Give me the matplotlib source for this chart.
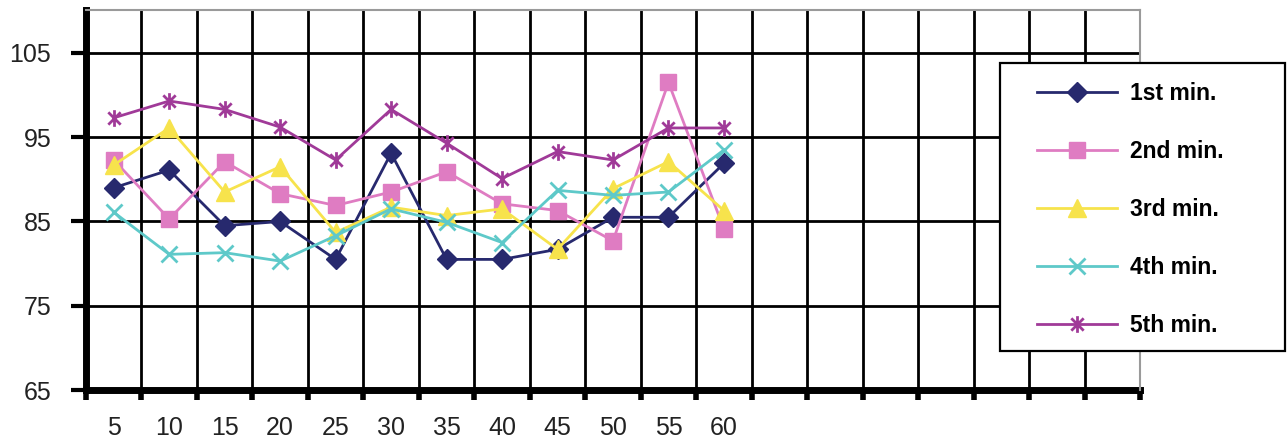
import numpy as np
import matplotlib
matplotlib.use("Agg")
import matplotlib.pyplot as plt
from matplotlib.path import Path

plt.rcParams['font.family'] = ['Liberation Sans', 'DejaVu Sans']

# minutes shown on the x axis, the remaining slots stay empty
minutes = [5, 10, 15, 20, 25, 30, 35, 40, 45, 50, 55, 60]
n_slots = 19

first = [89.0, 91.1, 84.5, 85.0, 80.5, 93.1, 80.5, 80.5, 81.7, 85.5, 85.5, 91.9]
second = [92.3, 85.3, 92.1, 88.3, 86.9, 88.5, 90.9, 87.1, 86.3, 82.7, 101.5, 84.1]
third = [91.7, 96.1, 88.5, 91.5, 83.7, 86.7, 85.7, 86.5, 81.7, 88.9, 92.1, 86.3]
fourth = [86.1, 81.1, 81.3, 80.3, 83.3, 86.5, 84.9, 82.5, 88.7, 88.1, 88.5, 93.5]
fifth = [97.3, 99.3, 98.3, 96.2, 92.3, 98.3, 94.3, 90.1, 93.3, 92.3, 96.1, 96.1]

labels = ['1st min.', '2nd min.', '3rd min.', '4th min.', '5th min.']
yticks = [65, 75, 85, 95, 105]

# asterisk: an x with a vertical bar through it
star = Path([(-1, -1), (1, 1), (-1, 1), (1, -1), (0, -1.35), (0, 1.35)],
            [Path.MOVETO, Path.LINETO, Path.MOVETO, Path.LINETO,
             Path.MOVETO, Path.LINETO])

styles = [
    dict(color='#27296e', marker='D', ms=10, mec='#27296e'),
    dict(color='#df7cc2', marker='s', ms=12, mec='#df7cc2'),
    dict(color='#f7e34c', marker='^', ms=13, mec='#f7e34c'),
    dict(color='#5ec9c9', marker='x', ms=12, mew=2),
    dict(color='#a03a98', marker=star, ms=12, mew=2),
]

fig = plt.figure(figsize=(12.88, 4.43), dpi=100)
ax = fig.add_axes([86 / 1288, 53 / 443, (1140 - 86) / 1288, (390 - 10) / 443])

x = np.arange(len(minutes))
for vals, lab, st in zip([first, second, third, fourth, fifth], labels, styles):
    ax.plot(x, vals, lw=2, label=lab, **st)

ax.set_xlim(-0.5, n_slots - 0.5)
ax.set_ylim(65, 110.1)

ax.set_yticks(yticks)
ax.set_xticks(x)
ax.set_xticklabels([str(m) for m in minutes])
ax.set_xticks(np.arange(-0.5, n_slots, 1), minor=True)

ax.tick_params(axis='x', which='major', length=0, pad=19, labelsize=18,
               labelcolor='#222222')
ax.tick_params(axis='x', which='minor', length=7, width=4, direction='out',
               color='black')
ax.tick_params(axis='y', which='major', length=11, width=3, direction='out',
               pad=14, labelsize=18, labelcolor='#222222')

ax.grid(True, axis='y', which='major', color='black', lw=2)
ax.grid(True, axis='x', which='minor', color='black', lw=2)
ax.set_axisbelow(True)

for side in ['left', 'bottom']:
    ax.spines[side].set_linewidth(5)
    ax.spines[side].set_color('black')
for side in ['top', 'right']:
    ax.spines[side].set_linewidth(1.5)
    ax.spines[side].set_color('#9a9a9a')
ax.spines['right'].set_zorder(5)
ax.spines['top'].set_zorder(5)

# legend box drawn separately so its padding can be set freely
box = plt.Rectangle((1000 / 1288, 1 - 351 / 443), 285 / 1288, 288 / 443,
                    transform=fig.transFigure, facecolor='white',
                    edgecolor='black', lw=1.6, zorder=3)
fig.add_artist(box)
leg = fig.legend(loc='upper left', bbox_to_anchor=(1037 / 1288, 1 - 82 / 443),
                 frameon=False, prop=dict(weight='bold', size=16.5),
                 handlelength=3.5, handletextpad=0.55, labelspacing=1.53,
                 borderpad=0, borderaxespad=0)
leg.set_zorder(4)

fig.savefig('out.png', dpi=100)
